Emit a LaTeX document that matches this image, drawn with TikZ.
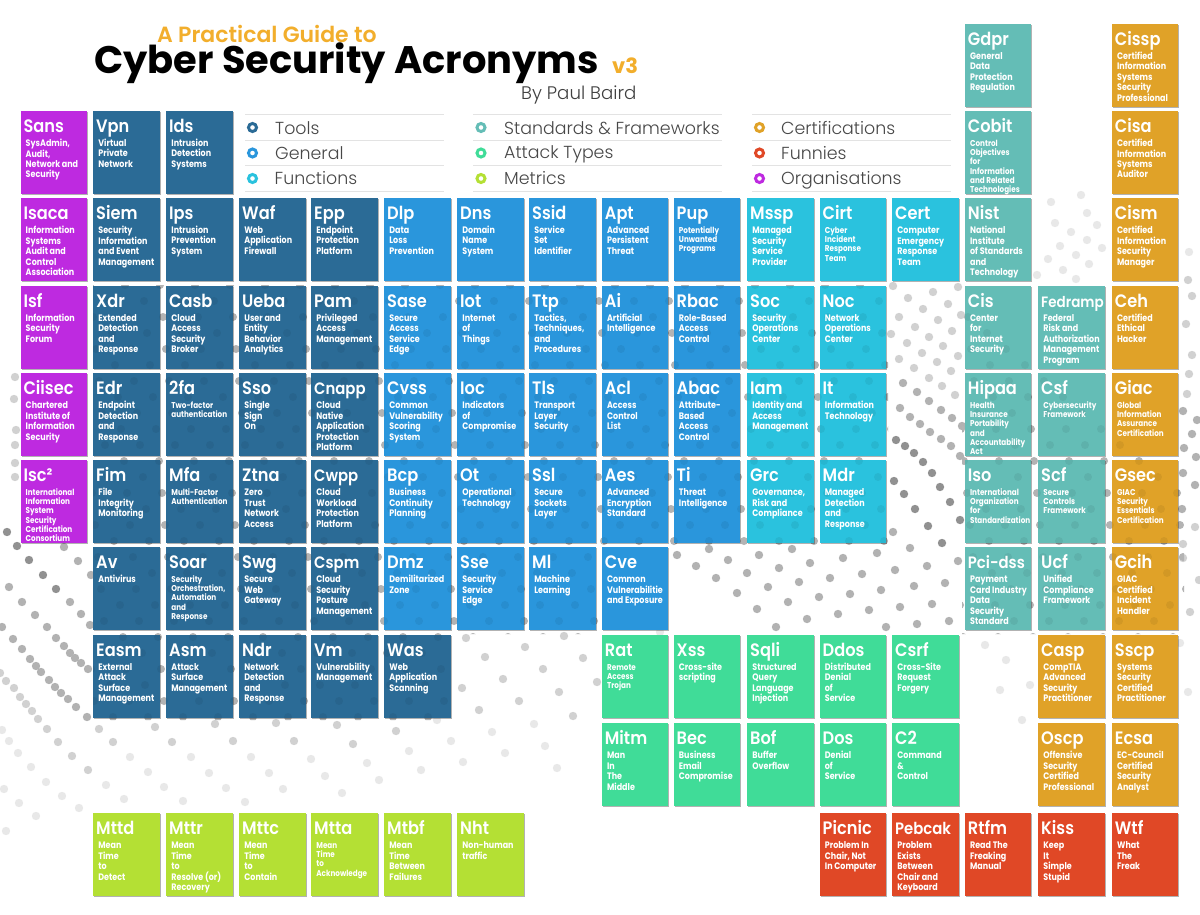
\documentclass[tikz,border=0pt]{standalone}
\usepackage{fontspec}
\usetikzlibrary{shadows}
\setmainfont{Poppins}
\newfontfamily\titlefont{Poppins SemiBold}
\newfontfamily\tiletitlefont[FakeStretch=0.9]{Poppins SemiBold}
\newfontfamily\descfont[FakeStretch=0.85]{Poppins Bold}
\newfontfamily\headfont{Poppins}[BoldFont=Poppins Bold]
\newfontfamily\lightfont{Poppins Light}
\definecolor{ctool}{HTML}{2B6B96}
\definecolor{cgen}{HTML}{2A96DC}
\definecolor{cfun}{HTML}{2AC2DE}
\definecolor{cstd}{HTML}{64BDB6}
\definecolor{catk}{HTML}{40DC98}
\definecolor{cmet}{HTML}{B4E034}
\definecolor{ccert}{HTML}{E0A228}
\definecolor{cfunny}{HTML}{E04826}
\definecolor{corg}{HTML}{BE2AE0}
\definecolor{chead}{HTML}{F2AE2C}
\pgfdeclarelayer{fg}
\pgfsetlayers{main,fg}
\tikzset{
  tilebox/.style={anchor=north west,minimum width=66.3,minimum height=83,inner sep=0,draw=none,
    drop shadow={shadow xshift=1.2pt,shadow yshift=-1.2pt,opacity=.3,fill=black}},
  ttitle/.style={anchor=base west,inner sep=0,text=white,font=\tiletitlefont\fontsize{18}{18}\selectfont},
  tdesc/.style={anchor=north west,inner sep=0,text=white,align=left,font=\descfont\fontsize{9.4}{10.5}\selectfont},
  tdsmall/.style={font=\descfont\fontsize{8.5}{9.2}\selectfont},
  legline/.style={draw=black!11,line width=.8pt},
  legring/.style={draw,fill=white,line width=3pt,circle,minimum size=8,inner sep=0},
  legtext/.style={anchor=base west,inner sep=0,text=black!72,font=\lightfont\fontsize{17.4}{20}\selectfont},
}
\newcommand\tsm[1]{{\fontsize{16.5}{17}\selectfont #1}}
\newcommand\txs[1]{{\fontsize{15}{16}\selectfont #1}}
\def\colsarr{{20.3,93,166,239,311,384,457,529,601.7,673.5,747,819.5,892,964.7,1038,1111.7}}
\def\rowsarr{{23.7,111,198,285.5,373,460,547,634.5,723,813}}
\newcommand\tile[7][]{%
  \pgfmathsetmacro\tx{\colsarr[#3]}%
  \pgfmathsetmacro\ty{\rowsarr[#4]}%
  \node[tilebox,fill=#5] (#2) at (\tx,\ty) {};
  \begin{pgfonlayer}{fg}
  \node[ttitle] (#2-t) at (\tx+3,\ty+21.5) {#6};
  \node[tdesc,#1] (#2-d) at (\tx+5.2,\ty+27.3) {\rule{0pt}{8pt}#7};
  \end{pgfonlayer}
}
\def\dotsdark{896/440,905/446,914/453,923/462,932/473,940/487,950/502,960/520,7/532,17/546,29/560,43/575,56/589,894/481,904/494,915/509,928/526,942/543}
\def\dotsmid{900/408,910/417,920/424,930/432,941/439,951/446,960/456,903/383,917/392,929/401,941/410,952/418,962/426,893/532,
677/555,696/566,716/578,737/593,757/609,776/627,709/549,728/560,747/573,768/587,788/602,807/619,759/555,779/568,799/582,819/597,838/614,792/549,810/563,830/578,850/594,869/610,886/627,843/558,862/574,881/590,900/607,917/624,877/553,895/570,914/586,932/604,949/621,910/548,927/566,945/583,958/561,
70/602,81/614,90/625,64/547,78/561,91/575,9/587,22/602,35/615,47/627,56/638,64/646,70/653,75/658,81/663,88/669,2/627,13/639,22/649,30/659,36/666,41/672,49/680,55/687,61/693,68/699,76/707,87/717,
1192/434,1197/420,1183/411,1184/448,1196/457,1183/473,1195/485,1182/509}
\def\dotslight{899/359,914/368,929/378,942/386,955/395,907/343,922/353,937/362,951/371,899/317,915/327,929/337,943/346,958/356,908/298,923/309,938/320,952/331,933/292,948/304,961/315,893/286,958/287,891/334,
0/673,6/681,14/688,20/697,26/704,32/711,38/719,47/729,58/742,72/756,88/770,
1192/355,1186/324,1192/296,1188/280,1189/374,1187/394,1195/527,1183/544,1183/558,1199/580,1190/612,
466/638,485/657,503/679,519/701,525/647,543/669,559/692,573/716,564/636,583/658,597/682,462/688,479/710,
99/729,155/727,215/724,276/723,337/725,396/731,113/742,172/742,233/741,294/741,353/744,
15/377,14/399,16/430,15/445,15/463,15/477}
\def\dotspale{1051/202,1081/195,1071/232,1055/223,1087/240,1060/246,1102/248,1076/255,1048/259,1063/270,1089/264,1076/279,1037/275,1097/225,1087/213,1189/252,
2/730,9/741,18/753,31/767,46/782,62/796,79/808,4/789,19/803,36/816,6/831,
130/757,148/772,164/787,183/801,106/785,124/799,191/757,209/773,226/788,245/802,251/757,269/773,283/789,311/759,325/776,342/793,367/763,379/780,409/751,421/770,437/720,451/741,463/762,492/732,505/753,534/724,545/746,557/768,
1188/692,1180/643,985/645,1006/660,1030/685,1022/720,1045/640,1060/665,1000/690,1070/660,1085/700,
620/640,640/650,660/632}
\begin{document}
\begin{tikzpicture}[x=1pt,y=-1pt]
\useasboundingbox (0,0) rectangle (1200,915);
\fill[white] (0,0) rectangle (1200,915);
% background dots, white areas
\foreach \dx/\dy in \dotspale {\fill[black!9] (\dx,\dy) circle (4.2pt);}
\foreach \dx/\dy in \dotslight {\fill[black!18] (\dx,\dy) circle (4.2pt);}
\foreach \dx/\dy in \dotsmid {\fill[black!30] (\dx,\dy) circle (4.2pt);}
\foreach \dx/\dy in \dotsdark {\fill[black!43] (\dx,\dy) circle (4.2pt);}
% background dots, behind the tiles
\begin{scope}
\clip (93,285) -- (888,285) -- (888,546) -- (600,546) -- (600,634) -- (452,634) -- (452,720) -- (93,720) -- cycle
      (962,285) -- (1184,285) -- (1184,634) -- (962,634) -- cycle;
\foreach \k in {-20,...,24} {\foreach \i in {0,...,28} {
  \fill[black!25] ({90+\k*35+\i*19},{285+\i*16}) circle (4pt);}}
\end{scope}
% tiles
\tile{Gdpr}{13}{0}{cstd}{Gdpr}{General\\Data\\Protection\\Regulation}
\tile{Cissp}{15}{0}{ccert}{Cissp}{Certified\\Information\\Systems\\Security\\Professional}
\tile{Sans}{0}{1}{corg}{Sans}{SysAdmin,\\Audit,\\Network and\\Security}
\tile{Vpn}{1}{1}{ctool}{Vpn}{Virtual\\Private\\Network}
\tile{Ids}{2}{1}{ctool}{Ids}{Intrusion\\Detection\\Systems}
\tile[tdsmall]{Cobit}{13}{1}{cstd}{Cobit}{Control\\Objectives\\for\\Information\\and Related\\Technologies}
\tile{Cisa}{15}{1}{ccert}{Cisa}{Certified\\Information\\Systems\\Auditor}
\tile{Isaca}{0}{2}{corg}{Isaca}{Information\\Systems\\Audit and\\Control\\Association}
\tile{Siem}{1}{2}{ctool}{Siem}{Security\\Information\\and Event\\Management}
\tile{Ips}{2}{2}{ctool}{Ips}{Intrusion\\Prevention\\System}
\tile{Waf}{3}{2}{ctool}{Waf}{Web\\Application\\Firewall}
\tile{Epp}{4}{2}{ctool}{Epp}{Endpoint\\Protection\\Platform}
\tile{Dlp}{5}{2}{cgen}{Dlp}{Data\\Loss\\Prevention}
\tile{Dns}{6}{2}{cgen}{Dns}{Domain\\Name\\System}
\tile{Ssid}{7}{2}{cgen}{Ssid}{Service\\Set\\Identifier}
\tile{Apt}{8}{2}{cgen}{Apt}{Advanced\\Persistent\\Threat}
\tile[tdsmall]{Pup}{9}{2}{cgen}{Pup}{Potentially\\Unwanted\\Programs}
\tile{Mssp}{10}{2}{cfun}{Mssp}{Managed\\Security\\Service\\Provider}
\tile[tdsmall]{Cirt}{11}{2}{cfun}{Cirt}{Cyber\\Incident\\Response\\Team}
\tile{Cert}{12}{2}{cfun}{Cert}{Computer\\Emergency\\Response\\Team}
\tile{Nist}{13}{2}{cstd}{Nist}{National\\Institute\\of Standards\\and\\Technology}
\tile{Cism}{15}{2}{ccert}{Cism}{Certified\\Information\\Security\\Manager}
\tile{Isf}{0}{3}{corg}{Isf}{Information\\Security\\Forum}
\tile{Xdr}{1}{3}{ctool}{Xdr}{Extended\\Detection\\and\\Response}
\tile{Casb}{2}{3}{ctool}{Casb}{Cloud\\Access\\Security\\Broker}
\tile{Ueba}{3}{3}{ctool}{Ueba}{User and\\Entity\\Behavior\\Analytics}
\tile{Pam}{4}{3}{ctool}{Pam}{Privileged\\Access\\Management}
\tile{Sase}{5}{3}{cgen}{Sase}{Secure\\Access\\Service\\Edge}
\tile{Iot}{6}{3}{cgen}{Iot}{Internet\\of\\Things}
\tile{Ttp}{7}{3}{cgen}{Ttp}{Tactics,\\Techniques,\\and\\Procedures}
\tile{Ai}{8}{3}{cgen}{Ai}{Artificial\\Intelligence}
\tile{Rbac}{9}{3}{cgen}{Rbac}{Role-Based\\Access\\Control}
\tile{Soc}{10}{3}{cfun}{Soc}{Security\\Operations\\Center}
\tile{Noc}{11}{3}{cfun}{Noc}{Network\\Operations\\Center}
\tile{Cis}{13}{3}{cstd}{Cis}{Center\\for\\Internet\\Security}
\tile{Fedramp}{14}{3}{cstd}{\txs{Fedramp}}{Federal\\Risk and\\Authorization\\Management\\Program}
\tile{Ceh}{15}{3}{ccert}{Ceh}{Certified\\Ethical\\Hacker}
\tile{Ciisec}{0}{4}{corg}{Ciisec}{Chartered\\Institute of\\Information\\Security}
\tile{Edr}{1}{4}{ctool}{Edr}{Endpoint\\Detection\\and\\Response}
\tile[tdsmall]{2fa}{2}{4}{ctool}{2fa}{Two-factor\\authentication}
\tile{Sso}{3}{4}{ctool}{Sso}{Single\\Sign\\On}
\tile{Cnapp}{4}{4}{ctool}{\tsm{Cnapp}}{Cloud\\Native\\Application\\Protection\\Platform}
\tile{Cvss}{5}{4}{cgen}{Cvss}{Common\\Vulnerability\\Scoring\\System}
\tile{Ioc}{6}{4}{cgen}{Ioc}{Indicators\\of\\Compromise}
\tile{Tls}{7}{4}{cgen}{Tls}{Transport\\Layer\\Security}
\tile{Acl}{8}{4}{cgen}{Acl}{Access\\Control\\List}
\tile{Abac}{9}{4}{cgen}{Abac}{Attribute-\\Based\\Access\\Control}
\tile{Iam}{10}{4}{cfun}{Iam}{Identity and\\Access\\Management}
\tile{It}{11}{4}{cfun}{It}{Information\\Technology}
\tile[tdsmall]{Hipaa}{13}{4}{cstd}{Hipaa}{Health\\Insurance\\Portability\\and\\Accountability\\Act}
\tile[tdsmall]{Csf}{14}{4}{cstd}{Csf}{Cybersecurity\\Framework}
\tile[tdsmall]{Giac}{15}{4}{ccert}{Giac}{Global\\Information\\Assurance\\Certification}
\tile[tdsmall]{Isc2}{0}{5}{corg}{Isc²}{International\\Information\\System\\Security\\Certification\\Consortium}
\tile{Fim}{1}{5}{ctool}{Fim}{File\\Integrity\\Monitoring}
\tile[tdsmall]{Mfa}{2}{5}{ctool}{Mfa}{Multi-Factor\\Authentication}
\tile{Ztna}{3}{5}{ctool}{Ztna}{Zero\\Trust\\Network\\Access}
\tile{Cwpp}{4}{5}{ctool}{\tsm{Cwpp}}{Cloud\\Workload\\Protection\\Platform}
\tile{Bcp}{5}{5}{cgen}{Bcp}{Business\\Continuity\\Planning}
\tile{Ot}{6}{5}{cgen}{Ot}{Operational\\Technology}
\tile{Ssl}{7}{5}{cgen}{Ssl}{Secure\\Sockets\\Layer}
\tile{Aes}{8}{5}{cgen}{Aes}{Advanced\\Encryption\\Standard}
\tile{Ti}{9}{5}{cgen}{Ti}{Threat\\Intelligence}
\tile{Grc}{10}{5}{cfun}{Grc}{Governance,\\Risk and\\Compliance}
\tile{Mdr}{11}{5}{cfun}{Mdr}{Managed\\Detection\\and\\Response}
\tile[tdsmall]{Iso}{13}{5}{cstd}{Iso}{International\\Organization\\for\\Standardization}
\tile[tdsmall]{Scf}{14}{5}{cstd}{Scf}{Secure\\Controls\\Framework}
\tile[tdsmall]{Gsec}{15}{5}{ccert}{Gsec}{GIAC\\Security\\Essentials\\Certification}
\tile{Av}{1}{6}{ctool}{Av}{Antivirus}
\tile[tdsmall]{Soar}{2}{6}{ctool}{Soar}{Security\\Orchestration,\\Automation\\and\\Response}
\tile{Swg}{3}{6}{ctool}{Swg}{Secure\\Web\\Gateway}
\tile{Cspm}{4}{6}{ctool}{\tsm{Cspm}}{Cloud\\Security\\Posture\\Management}
\tile{Dmz}{5}{6}{cgen}{Dmz}{Demilitarized\\Zone}
\tile{Sse}{6}{6}{cgen}{Sse}{Security\\Service\\Edge}
\tile{Ml}{7}{6}{cgen}{Ml}{Machine\\Learning}
\tile{Cve}{8}{6}{cgen}{Cve}{Common\\Vulnerabilitie\\and Exposure}
\tile{Pci-dss}{13}{6}{cstd}{\tsm{Pci-dss}}{Payment\\Card Industry\\Data\\Security\\Standard}
\tile{Ucf}{14}{6}{cstd}{Ucf}{Unified\\Compliance\\Framework}
\tile{Gcih}{15}{6}{ccert}{Gcih}{GIAC\\Certified\\Incident\\Handler}
\tile{Easm}{1}{7}{ctool}{Easm}{External\\Attack\\Surface\\Management}
\tile{Asm}{2}{7}{ctool}{Asm}{Attack\\Surface\\Management}
\tile{Ndr}{3}{7}{ctool}{Ndr}{Network\\Detection\\and\\Response}
\tile{Vm}{4}{7}{ctool}{Vm}{Vulnerability\\Management}
\tile{Was}{5}{7}{ctool}{Was}{Web\\Application\\Scanning}
\tile[tdsmall]{Rat}{8}{7}{catk}{Rat}{Remote\\Access\\Trojan}
\tile{Xss}{9}{7}{catk}{Xss}{Cross-site\\scripting}
\tile{Sqli}{10}{7}{catk}{Sqli}{Structured\\Query\\Language\\Injection}
\tile{Ddos}{11}{7}{catk}{Ddos}{Distributed\\Denial\\of\\Service}
\tile{Csrf}{12}{7}{catk}{Csrf}{Cross-Site\\Request\\Forgery}
\tile{Casp}{14}{7}{ccert}{Casp}{CompTIA\\Advanced\\Security\\Practitioner}
\tile{Sscp}{15}{7}{ccert}{Sscp}{Systems\\Security\\Certified\\Practitioner}
\tile{Mitm}{8}{8}{catk}{Mitm}{Man\\In\\The\\Middle}
\tile{Bec}{9}{8}{catk}{Bec}{Business\\Email\\Compromise}
\tile{Bof}{10}{8}{catk}{Bof}{Buffer\\Overflow}
\tile{Dos}{11}{8}{catk}{Dos}{Denial\\of\\Service}
\tile{C2}{12}{8}{catk}{C2}{Command\\\&\\Control}
\tile{Oscp}{14}{8}{ccert}{Oscp}{Offensive\\Security\\Certified\\Professional}
\tile{Ecsa}{15}{8}{ccert}{Ecsa}{EC-Council\\Certified\\Security\\Analyst}
\tile{Mttd}{1}{9}{cmet}{Mttd}{Mean\\Time\\to\\Detect}
\tile{Mttr}{2}{9}{cmet}{Mttr}{Mean\\Time\\to\\Resolve (or)\\Recovery}
\tile{Mttc}{3}{9}{cmet}{Mttc}{Mean\\Time\\to\\Contain}
\tile[tdsmall]{Mtta}{4}{9}{cmet}{Mtta}{Mean\\Time\\to\\Acknowledge}
\tile{Mtbf}{5}{9}{cmet}{Mtbf}{Mean\\Time\\Between\\Failures}
\tile{Nht}{6}{9}{cmet}{Nht}{Non-human\\traffic}
\tile{Picnic}{11}{9}{cfunny}{Picnic}{Problem In\\Chair, Not\\In Computer}
\tile{Pebcak}{12}{9}{cfunny}{\tsm{Pebcak}}{Problem\\Exists\\Between\\Chair and\\Keyboard}
\tile{Rtfm}{13}{9}{cfunny}{Rtfm}{Read The\\Freaking\\Manual}
\tile{Kiss}{14}{9}{cfunny}{Kiss}{Keep\\It\\Simple\\Stupid}
\tile{Wtf}{15}{9}{cfunny}{Wtf}{What\\The\\Freak}
% faint dots showing through the tiles
\begin{scope}[opacity=.06]
\clip (93,285) -- (888,285) -- (888,546) -- (600,546) -- (600,634) -- (452,634) -- (452,720) -- (93,720) -- cycle
      (962,285) -- (1184,285) -- (1184,634) -- (962,634) -- cycle;
\foreach \k in {-20,...,24} {\foreach \i in {0,...,28} {
  \fill[black] ({90+\k*35+\i*19},{285+\i*16}) circle (4pt);}}
\end{scope}
% headings
\node[anchor=base west,inner sep=0,text=chead,font=\titlefont\fontsize{22}{24}\selectfont] (guide) at (157,43) {A Practical Guide to};
\node[anchor=base west,inner sep=0,text=black,font=\headfont\bfseries\fontsize{38.4}{40}\selectfont] (main) at (94,73.5) {Cyber Security Acronyms};
\node[anchor=base west,inner sep=0,text=chead,font=\headfont\bfseries\fontsize{21}{22}\selectfont] (ver) at (612,73.5) {v3};
\node[anchor=base west,inner sep=0,text=black!75,font=\lightfont\fontsize{18.2}{20}\selectfont] (by) at (521,99.5) {By Paul Baird};
% legend
\foreach \lx/\lw/\n in {245/199/a,473/249/b,752/199/c}{
  \foreach \ly/\m in {114/1,140/2,165/3,191/4}{
    \coordinate (l\n\m s) at (\lx,\ly);
    \coordinate (l\n\m e) at (\lx+\lw,\ly);
    \draw[legline] (l\n\m s) -- (l\n\m e);
  }
}
\node[legring,draw=ctool] (r1) at (252.5,127.5) {};
\node[legring,draw=cgen] (r2) at (252.5,153) {};
\node[legring,draw=cfun] (r3) at (252.5,178.5) {};
\node[legring,draw=cstd] (r4) at (481,127.5) {};
\node[legring,draw=catk] (r5) at (481,153) {};
\node[legring,draw=cmet] (r6) at (481,178.5) {};
\node[legring,draw=ccert] (r7) at (759.5,127.5) {};
\node[legring,draw=cfunny] (r8) at (759.5,153) {};
\node[legring,draw=corg] (r9) at (759.5,178.5) {};
\node[legtext] (k1) at (275,134.5) {Tools};
\node[legtext] (k2) at (275,159.5) {General};
\node[legtext] (k3) at (274.5,185) {Functions};
\node[legtext] (k4) at (504,134.5) {Standards \& Frameworks};
\node[legtext] (k5) at (504,158.5) {Attack Types};
\node[legtext] (k6) at (504,185) {Metrics};
\node[legtext] (k7) at (781,134.5) {Certifications};
\node[legtext] (k8) at (781,159.5) {Funnies};
\node[legtext] (k9) at (781,185) {Organisations};
\end{tikzpicture}
\end{document}
